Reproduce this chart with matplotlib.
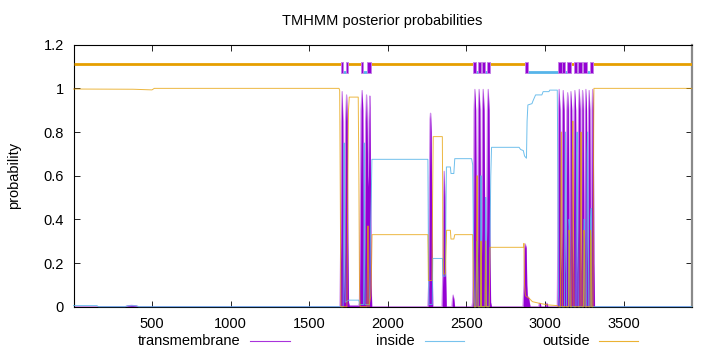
import matplotlib
matplotlib.use("Agg")
import matplotlib.pyplot as plt
from matplotlib.lines import Line2D

plt.rcParams['font.family'] = ['Liberation Sans', 'DejaVu Sans']

# ---------------- data ----------------
seq_len = 3933
x_ticks = [500, 1000, 1500, 2000, 2500, 3000, 3500]
y_ticks = [0, 0.2, 0.4, 0.6, 0.8, 1.0, 1.2]
y_tick_labels = ['0', '0.2', '0.4', '0.6', '0.8', '1', '1.2']
series_names = ['transmembrane', 'inside', 'outside']

# transmembrane posterior probability (key points)
tm_pos = [1, 330, 345, 370, 400, 415, 1690,
          1696, 1701, 1705, 1710, 1714, 1718, 1722, 1726, 1731, 1738, 1742, 1746, 1750,
          1755, 1815,
          1820, 1825, 1830, 1837, 1841, 1846, 1850, 1854, 1859, 1865, 1869, 1873, 1877,
          1881, 1886, 1890, 1894, 1898,
          2255, 2260, 2265, 2269, 2272, 2276, 2281, 2286,
          2345, 2350, 2355, 2359, 2363, 2368, 2372,
          2408, 2412, 2416, 2420, 2425,
          2535, 2540,
          2545, 2549, 2554, 2559, 2564, 2568, 2572, 2576, 2581, 2586, 2590, 2594, 2598,
          2602, 2607, 2612, 2617, 2623, 2629, 2634, 2639, 2644, 2649, 2654, 2660,
          2860, 2866, 2870, 2875, 2880, 2884, 2888, 2895, 2900, 2905,
          2960, 2964, 2970, 2974, 3004, 3008, 3014, 3018,
          3078, 3082, 3086, 3090, 3095, 3100, 3103, 3107, 3111, 3116, 3121, 3126, 3130,
          3135, 3139, 3144, 3148, 3152, 3155, 3158, 3161, 3165, 3170, 3174, 3177, 3181,
          3185, 3190, 3195, 3200, 3204, 3208, 3213, 3218, 3223, 3226, 3229, 3232, 3235,
          3239, 3243, 3247, 3250, 3253, 3256, 3260, 3264, 3268, 3271, 3274, 3277, 3281,
          3285, 3289, 3292, 3295, 3299, 3303, 3307, 3311, 3315, 3933]
tm_prob = [0.0, 0.0, 0.004, 0.006, 0.004, 0.0, 0.0,
           0.0, 0.3, 0.85, 0.985, 0.85, 0.2, 0.05, 0.25, 0.85, 0.97, 0.85, 0.3, 0.02,
           0.005, 0.005,
           0.02, 0.4, 0.9, 0.99, 0.9, 0.3, 0.05, 0.3, 0.85, 0.97, 0.8, 0.55, 0.6,
           0.85, 0.965, 0.6, 0.1, 0.0,
           0.0, 0.1, 0.6, 0.86, 0.886, 0.8, 0.3, 0.0,
           0.0, 0.15, 0.5, 0.62, 0.5, 0.15, 0.0,
           0.0, 0.035, 0.053, 0.035, 0.0,
           0.0, 0.02,
           0.3, 0.9, 0.995, 0.9, 0.3, 0.1, 0.3, 0.9, 0.995, 0.9, 0.35, 0.1, 0.35,
           0.9, 0.995, 0.9, 0.35, 0.1, 0.35, 0.9, 0.995, 0.9, 0.3, 0.02, 0.0,
           0.0, 0.1, 0.27, 0.287, 0.27, 0.1, 0.04, 0.045, 0.02, 0.0,
           0.0, 0.015, 0.015, 0.0, 0.0, 0.015, 0.015, 0.0,
           0.0, 0.3, 0.9, 0.995, 0.9, 0.3, 0.15, 0.35, 0.9, 0.99, 0.9, 0.3, 0.15,
           0.35, 0.9, 0.98, 0.9, 0.3, 0.15, 0.35, 0.9, 0.985, 0.9, 0.3, 0.15, 0.35,
           0.9, 0.99, 0.9, 0.3, 0.15, 0.35, 0.9, 0.995, 0.9, 0.3, 0.15, 0.35, 0.9,
           0.99, 0.9, 0.3, 0.15, 0.35, 0.9, 0.995, 0.9, 0.3, 0.15, 0.35, 0.9, 0.99,
           0.9, 0.3, 0.15, 0.35, 0.9, 0.995, 0.9, 0.2, 0.0, 0.0]

# inside posterior probability
in_pos = [1, 150, 160, 330, 345, 400, 415, 1716, 1719, 1722, 1725, 1729, 1752, 1815,
          1822, 1846, 1848, 1850, 1852, 1855, 1884, 1888, 1891, 1895, 1899,
          2255, 2258, 2262, 2283, 2286, 2348, 2351, 2366, 2370, 2373, 2398, 2402,
          2420, 2426, 2533, 2540, 2545, 2550,
          2560, 2566, 2568, 2570, 2575, 2590, 2593, 2596, 2618, 2622, 2624, 2628,
          2645, 2650, 2655, 2660, 2835, 2845, 2862, 2870, 2882, 2886, 2891, 2917,
          2922, 2940, 2980, 2988, 3025, 3030, 3078, 3082, 3086, 3090,
          3124, 3127, 3130, 3133, 3137, 3150, 3153, 3157, 3160, 3197, 3201, 3204,
          3207, 3211, 3245, 3248, 3252, 3255, 3265, 3268, 3271, 3274, 3278, 3287,
          3290, 3294, 3297, 3933]
in_prob = [0.005, 0.005, 0.0, 0.0, 0.004, 0.004, 0.0, 0.0, 0.4, 0.75, 0.4, 0.02, 0.03, 0.03,
           0.01, 0.01, 0.4, 0.75, 0.4, 0.01, 0.01, 0.2, 0.38, 0.5, 0.675,
           0.675, 0.3, 0.01, 0.01, 0.221, 0.221, 0.14, 0.14, 0.45, 0.64, 0.64, 0.61,
           0.61, 0.678, 0.678, 0.65, 0.3, 0.0,
           0.0, 0.25, 0.3, 0.25, 0.0, 0.0, 0.6, 0.0, 0.0, 0.5, 0.5, 0.0,
           0.0, 0.3, 0.6, 0.73, 0.73, 0.72, 0.715, 0.69, 0.68, 0.85, 0.924, 0.93,
           0.94, 0.97, 0.97, 0.985, 0.985, 0.992, 0.992, 0.6, 0.05, 0.0,
           0.0, 0.6, 0.8, 0.6, 0.0, 0.0, 0.4, 0.35, 0.0, 0.0, 0.7, 0.8,
           0.5, 0.0, 0.0, 0.4, 0.4, 0.0, 0.0, 0.7, 0.8, 0.5, 0.0, 0.0,
           0.4, 0.45, 0.0, 0.0]

# outside posterior probability
out_pos = [1, 380, 500, 515, 1690, 1694, 1698, 1702, 1740, 1745, 1750, 1755, 1812, 1816,
           1820, 1824, 1868, 1871, 1874, 1877, 1880, 1892, 1897, 1900,
           2255, 2258, 2281, 2285, 2289, 2347, 2350, 2354, 2366, 2370, 2374, 2398,
           2402, 2420, 2426, 2540, 2545, 2550,
           2562, 2566, 2568, 2570, 2574, 2590, 2593, 2596, 2619, 2623, 2627, 2645,
           2650, 2862, 2866, 2870, 2876, 2900, 2920, 2968, 3021, 3078, 3084,
           3098, 3101, 3104, 3107, 3110, 3150, 3153, 3157, 3160, 3170, 3174, 3177,
           3180, 3184, 3223, 3226, 3229, 3232, 3235, 3245, 3248, 3252, 3255, 3287,
           3290, 3294, 3297, 3305, 3308, 3311, 3933]
out_prob = [0.997, 0.996, 0.993, 1.0, 1.0, 0.99, 0.5, 0.0, 0.0, 0.5, 0.9, 0.96, 0.96, 0.6,
            0.1, 0.0, 0.0, 0.2, 0.37, 0.2, 0.0, 0.05, 0.2, 0.33,
            0.33, 0.12, 0.12, 0.5, 0.779, 0.779, 0.4, 0.15, 0.15, 0.25, 0.35, 0.35,
            0.31, 0.31, 0.33, 0.33, 0.1, 0.0,
            0.0, 0.5, 0.6, 0.5, 0.0, 0.0, 0.3, 0.0, 0.0, 0.3, 0.0, 0.0,
            0.272, 0.272, 0.29, 0.1, 0.05, 0.038, 0.023, 0.015, 0.008, 0.005, 0.0,
            0.0, 0.6, 0.8, 0.5, 0.0, 0.0, 0.35, 0.3, 0.0, 0.0, 0.7, 0.85,
            0.6, 0.0, 0.0, 0.6, 0.8, 0.6, 0.0, 0.0, 0.35, 0.3, 0.0, 0.0,
            0.35, 0.3, 0.0, 0.0, 0.6, 1.0, 1.0]

# predicted topology (residue ranges)
topo_outside = [(1, 1700), (1748, 1827), (1893, 2544), (2592, 2597), (2649, 2872),
                (3106, 3110), (3163, 3184), (3233, 3243), (3307, 3933)]
topo_inside = [(1716, 1732), (1843, 1865), (2564, 2572), (2617, 2629), (2893, 3084),
               (3127, 3141), (3205, 3211), (3265, 3286)]
topo_tm = [(1700, 1716), (1732, 1748), (1827, 1843), (1865, 1893), (2544, 2564),
           (2572, 2592), (2597, 2617), (2629, 2649), (2872, 2893), (3084, 3106),
           (3110, 3127), (3141, 3163), (3184, 3205), (3211, 3233), (3243, 3265),
           (3286, 3307)]
topo_level_outside = 1.113
topo_level_inside = 1.075
topo_tm_band = (1.069, 1.119)

# ---------------- style ----------------
c_tm = '#9400D3'
c_in = '#56B4E9'
c_out = '#E69F00'

W, H = 720, 352
fig = plt.figure(figsize=(W / 100, H / 100), dpi=100)
ax = fig.add_axes([73.5 / W, 1 - 306.7 / H, (691.7 - 73.5) / W, (306.7 - 44.7) / H])

# transmembrane impulses (filled area)
ax.fill_between(tm_pos, 0, tm_prob, color=c_tm, lw=0, zorder=2)
ax.plot(tm_pos, tm_prob, color=c_tm, lw=0.9, alpha=0.45, zorder=2)
# inside / outside lines
ax.plot(in_pos, in_prob, color=c_in, lw=0.7, alpha=0.85, zorder=3, clip_on=False)
ax.plot(out_pos, out_prob, color=c_out, lw=0.7, alpha=0.75, zorder=3, clip_on=False)

# topology annotation
for a, b in topo_outside:
    ax.plot([a, b], [topo_level_outside] * 2, color=c_out, lw=2.0,
            solid_capstyle='butt', zorder=4)
for a, b in topo_inside:
    ax.plot([a, b], [topo_level_inside] * 2, color=c_in, lw=2.0,
            solid_capstyle='butt', zorder=4)
for a, b in topo_tm:
    ax.fill_between([a, b], topo_tm_band[0], topo_tm_band[1], facecolor=c_tm,
                    edgecolor='#c27fe6', lw=0.6, zorder=5)

ax.set_xlim(1, seq_len)
ax.set_ylim(0, 1.2)
ax.set_xticks(x_ticks)
ax.set_xticklabels([str(v) for v in x_ticks])
ax.set_yticks(y_ticks)
ax.set_yticklabels(y_tick_labels)
ax.tick_params(direction='in', length=4, width=0.6, top=True, right=True,
               labelsize=10.5, colors='black')
ax.tick_params(axis='x', pad=7.5)
ax.tick_params(axis='y', pad=7)
for s in ax.spines.values():
    s.set_linewidth(0.8)
ax.spines['right'].set_color('#8a8a8a')
ax.spines['right'].set_linewidth(1.6)

ax.set_title('TMHMM posterior probabilities', fontsize=10.5, pad=14)
ax.set_ylabel('probability', fontsize=10.5)
ax.yaxis.set_label_coords(-0.085, 0.5)

# legend in gnuplot style: text followed by line sample
leg_y = 1 - 341 / H
legend_specs = [(series_names[0], c_tm, 240, 250, 290),
                (series_names[1], c_in, 415, 425, 464),
                (series_names[2], c_out, 590, 599, 638)]
for name, col, tx, l0, l1 in legend_specs:
    fig.text(tx / W, leg_y, name, ha='right', va='center', fontsize=10.5)
    fig.add_artist(Line2D([l0 / W, l1 / W], [leg_y, leg_y], color=col, lw=0.8,
                          alpha=0.8))

fig.savefig('out.png', dpi=100)
